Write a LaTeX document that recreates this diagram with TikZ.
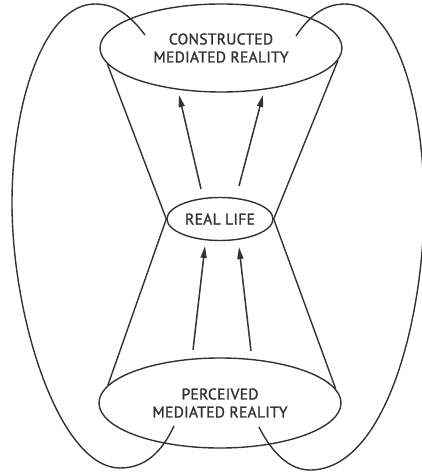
\documentclass[tikz,border=0pt]{standalone}
\usepackage{fontspec}
\setmainfont[FakeBold=1.5,LetterSpace=2]{PT Sans}
\usetikzlibrary{arrows.meta,shapes.geometric}
\definecolor{ink}{HTML}{333333}
\begin{document}
\begin{tikzpicture}[x=1pt,y=-1pt,
  line/.style={draw=ink,line width=1.4pt},
  oval/.style={ellipse,draw=ink,line width=1.4pt,inner sep=0pt,text=ink,font=\fontsize{15.5}{18}\selectfont,align=center},
  arr/.style={draw=ink,line width=1.5pt,-{Triangle[length=12pt,width=6pt]}}]
\useasboundingbox (0,0) rectangle (422,473);
\node[oval,minimum width=242pt,minimum height=88pt] (top) at (221,48) {CONSTRUCTED\\MEDIATED REALITY};
\node[oval,minimum width=106pt,minimum height=43pt] (rl) at (220,219) {REAL LIFE};
\node[oval,minimum width=242pt,minimum height=90pt] (bot) at (220,403) {PERCEIVED\\MEDIATED REALITY};
% funnel
\draw[line] (top.188) -- (rl.180);
\draw[line] (top.354) -- (rl.0);
\draw[line] (rl.180) -- (bot.171);
\draw[line] (rl.0) -- (bot.7);
% arrows
\coordinate (a1s) at (201,189); \coordinate (a1e) at (179,95);
\coordinate (a2s) at (239,186); \coordinate (a2e) at (263,95);
\coordinate (a3s) at (193,350); \coordinate (a3e) at (205,246);
\coordinate (a4s) at (251,351); \coordinate (a4e) at (239,247);
\draw[arr] (a1s) -- (a1e);
\draw[arr] (a2s) -- (a2e);
\draw[arr] (a3s) -- (a3e);
\draw[arr] (a4s) -- (a4e);
% loops
\coordinate (l1) at (145,35); \coordinate (l2) at (174,426);
\coordinate (r1) at (296,36); \coordinate (r2) at (259,427);
\draw[line] (l1) .. controls (130,15) and (115,4) .. (95,4)
  .. controls (45,4) and (12,100) .. (12,203)
  .. controls (12,320) and (60,468) .. (120,468)
  .. controls (150,468) and (165,445) .. (l2);
\draw[line] (r1) .. controls (310,15) and (325,4) .. (345,4)
  .. controls (395,4) and (424,100) .. (424,205)
  .. controls (424,320) and (385,470) .. (310,470)
  .. controls (285,470) and (268,445) .. (r2);
\end{tikzpicture}
\end{document}
